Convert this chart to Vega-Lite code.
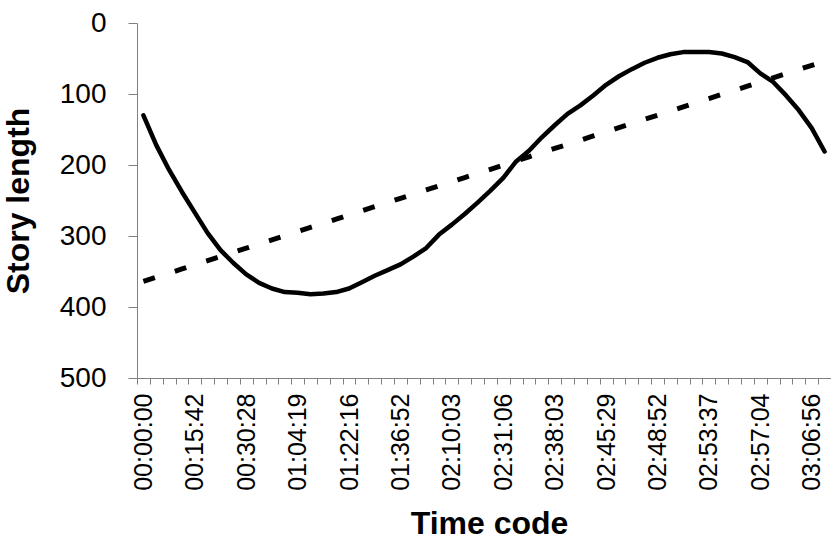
{
  "$schema": "https://vega.github.io/schema/vega-lite/v6.json",
  "autosize": "none",
  "width": 694,
  "height": 355,
  "padding": {"left": 137, "top": 23, "right": 0, "bottom": 166},
  "background": "white",
  "config": {"view": {"stroke": null}, "font": "Liberation Sans"},
  "data": {"values": [
    {"i": 0, "story": 130, "trend": 364.0},
    {"i": 1, "story": 172, "trend": 358.1},
    {"i": 2, "story": 207, "trend": 352.3},
    {"i": 3, "story": 238, "trend": 346.4},
    {"i": 4, "story": 267, "trend": 340.6},
    {"i": 5, "story": 296, "trend": 334.7},
    {"i": 6, "story": 320, "trend": 328.9},
    {"i": 7, "story": 338, "trend": 323.0},
    {"i": 8, "story": 354, "trend": 317.2},
    {"i": 9, "story": 366, "trend": 311.3},
    {"i": 10, "story": 374, "trend": 305.5},
    {"i": 11, "story": 379, "trend": 299.6},
    {"i": 12, "story": 380, "trend": 293.8},
    {"i": 13, "story": 382, "trend": 287.9},
    {"i": 14, "story": 381, "trend": 282.1},
    {"i": 15, "story": 379, "trend": 276.2},
    {"i": 16, "story": 374, "trend": 270.4},
    {"i": 17, "story": 365, "trend": 264.5},
    {"i": 18, "story": 356, "trend": 258.6},
    {"i": 19, "story": 348, "trend": 252.8},
    {"i": 20, "story": 340, "trend": 246.9},
    {"i": 21, "story": 329, "trend": 241.1},
    {"i": 22, "story": 317, "trend": 235.2},
    {"i": 23, "story": 298, "trend": 229.4},
    {"i": 24, "story": 284, "trend": 223.5},
    {"i": 25, "story": 269, "trend": 217.7},
    {"i": 26, "story": 253, "trend": 211.8},
    {"i": 27, "story": 236, "trend": 206.0},
    {"i": 28, "story": 218, "trend": 200.1},
    {"i": 29, "story": 195, "trend": 194.3},
    {"i": 30, "story": 180, "trend": 188.4},
    {"i": 31, "story": 161, "trend": 182.6},
    {"i": 32, "story": 144, "trend": 176.7},
    {"i": 33, "story": 128, "trend": 170.9},
    {"i": 34, "story": 116, "trend": 165.0},
    {"i": 35, "story": 102, "trend": 159.1},
    {"i": 36, "story": 87, "trend": 153.3},
    {"i": 37, "story": 75, "trend": 147.4},
    {"i": 38, "story": 65, "trend": 141.6},
    {"i": 39, "story": 56, "trend": 135.7},
    {"i": 40, "story": 49, "trend": 129.9},
    {"i": 41, "story": 44, "trend": 124.0},
    {"i": 42, "story": 41, "trend": 118.2},
    {"i": 43, "story": 41, "trend": 112.3},
    {"i": 44, "story": 41, "trend": 106.5},
    {"i": 45, "story": 43, "trend": 100.6},
    {"i": 46, "story": 48, "trend": 94.8},
    {"i": 47, "story": 55, "trend": 88.9},
    {"i": 48, "story": 71, "trend": 83.1},
    {"i": 49, "story": 83, "trend": 77.2},
    {"i": 50, "story": 102, "trend": 71.4},
    {"i": 51, "story": 123, "trend": 65.5},
    {"i": 52, "story": 148, "trend": 59.7},
    {"i": 53, "story": 181, "trend": 53.8}
  ]},
  "encoding": {
    "x": {
      "field": "i",
      "type": "ordinal",
      "scale": {"type": "band", "paddingInner": 0, "paddingOuter": 0},
      "axis": {
        "title": "Time code",
        "titleFontSize": 32,
        "titleFontWeight": "bold",
        "titleColor": "black",
        "titlePadding": 18,
        "titleX": 352,
        "labelAngle": -90,
        "labelFontSize": 25,
        "labelColor": "black",
        "labelPadding": 9,
        "labelOverlap": false,
        "tickBand": "extent",
        "tickSize": 6,
        "tickColor": "#808080",
        "domainColor": "#808080",
        "grid": false,
        "labelExpr": "datum.value % 4 == 0 ? ['00:00:00','00:15:42','00:30:28','01:04:19','01:22:16','01:36:52','02:10:03','02:31:06','02:38:03','02:45:29','02:48:52','02:53:37','02:57:04','03:06:56'][datum.value / 4] : ''"
      }
    }
  },
  "layer": [
    {
      "mark": {"type": "line", "color": "black", "strokeWidth": 4.5, "strokeCap": "round", "strokeJoin": "round"},
      "encoding": {
        "y": {
          "field": "story",
          "type": "quantitative",
          "title": "Story length",
          "scale": {"domain": [0, 500], "reverse": true},
          "axis": {
            "values": [0, 100, 200, 300, 400, 500],
            "titleFontSize": 32,
            "titleFontWeight": "bold",
            "titleColor": "black",
            "titlePadding": 24,
            "labelFontSize": 28,
            "labelColor": "black",
            "labelPadding": 22,
            "tickSize": 9,
            "tickColor": "#808080",
            "domainColor": "#808080",
            "grid": false
          }
        }
      }
    },
    {
      "mark": {"type": "line", "color": "black", "strokeWidth": 5, "strokeDash": [12, 21]},
      "encoding": {
        "y": {
          "field": "trend",
          "type": "quantitative",
          "title": "Story length",
          "axis": {
            "values": [0, 100, 200, 300, 400, 500],
            "titleFontSize": 32,
            "titleFontWeight": "bold",
            "titleColor": "black",
            "titlePadding": 24,
            "labelFontSize": 28,
            "labelColor": "black",
            "labelPadding": 22,
            "tickSize": 9,
            "tickColor": "#808080",
            "domainColor": "#808080",
            "grid": false
          }
        }
      }
    }
  ]
}
